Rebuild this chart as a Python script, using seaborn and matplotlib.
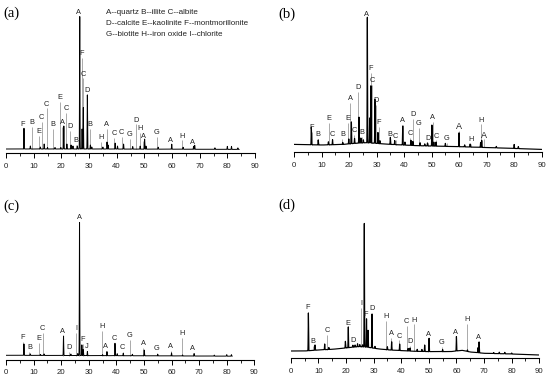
import numpy as np
import matplotlib
matplotlib.use("Agg")
import matplotlib.pyplot as plt
import seaborn as sns

sns.set_theme(style="white")
plt.rcParams['font.family'] = ['Liberation Sans', 'DejaVu Sans']

# ---------------- data (heights in px above x-axis line of reference) -------------
legend_lines = ["A--quartz B--illite C--albite",
                "D--calcite E--kaolinite F--montmorillonite",
                "G--biotite H--iron oxide I--chlorite"]

# panel (a)
a_bg_x = [0, 30, 60, 84.3]
a_bg_y = [3.7, 3.7, 3.5, 3.3]
a_peak_pos = [6.5, 8.8, 12.4, 13.8, 15.0, 17.7, 19.8, 20.9, 22.0, 23.5, 24.2, 25.8, 26.65, 27.5, 27.95,
              29.4, 30.5, 31.0, 35.0, 36.5, 36.9, 39.45, 40.3, 42.5, 45.8, 48.5, 50.1, 50.6, 55.0,
              59.9, 64.0, 67.8, 68.2, 75.5, 80.0, 81.5, 83.8]
a_peak_h = [20.7, 3, 2, 5, 1.5, 1.5, 1.5, 23, 5, 4, 3, 3, 134, 20, 42,
            54, 4, 2, 2, 7, 4, 6, 3, 5, 2.5, 3, 10, 3, 2,
            5, 2, 3, 4, 1.5, 3, 3, 1.5]
a_lab_txt = ["F", "B", "E", "C", "C", "B", "E", "A", "C", "D", "B", "A", "F", "C", "D", "B", "H", "A",
             "C", "C", "G", "D", "H", "A", "G", "A", "H", "A"]
a_lab_x = [6.0, 9.5, 12.0, 12.9, 14.7, 17.1, 19.5, 20.4, 21.8, 23.1, 25.3, 26.3, 27.3, 27.9, 29.2, 30.4,
           34.2, 36.4, 39.0, 41.8, 44.8, 47.0, 48.4, 49.6, 54.5, 59.5, 63.5, 67.5]
a_lab_y = [27.7, 30.4, 21.0, 35.0, 48.7, 27.7, 55.4, 30.4, 44.4, 26.0, 12.0, 139.7, 99.4, 78.7, 62.7, 28.4,
           15.0, 28.4, 19.4, 20.4, 17.7, 32.7, 23.7, 16.0, 20.4, 12.0, 16.7, 10.4]

# panel (b)
b_bg_x = [0, 10, 18, 22, 26, 30, 35, 45, 60, 75, 90]
b_bg_y = [7.3, 6.7, 7.3, 8.3, 9.0, 8.3, 7.3, 6.0, 5.0, 3.7, 2.3]
b_peak_pos = [6.3, 8.8, 12.5, 14.0, 17.7, 19.9, 20.85, 22.0, 23.6, 24.3, 25.2, 26.65, 27.5, 27.95, 29.4,
              30.5, 31.2, 35.0, 36.6, 39.5, 40.3, 42.5, 43.2, 45.8, 47.5, 48.5, 50.1, 50.8, 51.6, 55.0,
              59.95, 62.0, 64.0, 67.8, 68.2, 73.5, 80.0, 81.5]
b_peak_h = [17.7, 5, 3, 5, 2, 5, 22, 5, 26, 5, 3, 127, 25, 58, 44,
            11, 3, 7, 4, 19, 3, 5, 4, 3, 2, 3, 21, 4, 4, 3,
            14, 2, 3, 5, 7, 1.5, 4, 2]
b_lab_txt = ["F", "B", "E", "C", "B", "E", "A", "C", "D", "B", "A", "F", "C", "D", "F", "B", "C", "A", "C",
             "D", "G", "D", "A", "C", "G", "A", "H", "H", "A"]
b_lab_x = [6.4, 8.6, 12.7, 13.9, 17.6, 19.7, 20.5, 21.9, 23.3, 24.8, 26.4, 28.0, 28.5, 29.7, 30.9, 34.9,
           36.9, 39.5, 42.2, 43.1, 45.4, 48.8, 50.4, 51.7, 55.5, 60.1, 64.2, 67.9, 69.2]
b_lab_y = [24.0, 16.7, 33.3, 16.7, 16.7, 32.7, 53.3, 20.7, 64.0, 19.0, 137.3, 83.3, 70.7, 51.0, 29.0, 17.3,
           15.7, 30.7, 18.3, 37.3, 28.3, 13.3, 34.3, 15.7, 13.3, 25.0, 12.3, 31.7, 16.7]

# panel (c)
c_bg_x = [0, 30, 60, 82]
c_bg_y = [4.3, 4.0, 3.7, 3.4]
c_peak_pos = [6.5, 8.8, 12.5, 13.8, 20.85, 23.5, 26.0, 26.65, 27.5, 28.0, 29.5, 35.0, 36.6, 39.5, 40.3,
              42.5, 45.8, 50.1, 55.0, 60.0, 64.0, 68.2, 75.5, 80.0, 81.7]
c_peak_h = [11.4, 1.5, 1, 1.5, 19.7, 1.5, 2, 134.7, 10.7, 6, 4, 1, 4, 12.4, 2,
            2.4, 1.5, 5.7, 1.5, 3, 1, 2.4, 1, 1.5, 1.5]
c_lab_txt = ["F", "B", "E", "C", "A", "D", "I", "A", "F", "J", "H", "A", "C", "C", "G", "A", "G", "A", "H", "A"]
c_lab_x = [6.0, 8.5, 11.8, 13.3, 20.5, 23.0, 25.5, 26.6, 27.8, 29.4, 34.7, 36.2, 39.1, 42.3, 44.9, 49.8,
           54.6, 59.7, 63.7, 67.6]
c_lab_y = [21.7, 11.7, 21.0, 31.0, 28.3, 11.7, 30.7, 141.7, 20.0, 13.3, 33.3, 13.3, 21.0, 11.7, 24.3, 16.0,
           10.7, 13.3, 26.0, 10.7]

# panel (d)
d_bg_x = [0, 5, 10, 15, 19, 22, 25, 28, 32, 36, 40, 45, 50, 55, 58, 62, 65, 70, 80, 90]
d_bg_y = [7.3, 7.3, 8.3, 9.0, 10.0, 11.0, 11.7, 11.0, 9.3, 8.3, 7.7, 7.0, 6.7, 6.7, 6.7, 8.0, 6.3, 5.0, 4.3, 3.3]
d_peak_pos = [6.4, 8.8, 12.3, 13.8, 19.8, 20.85, 22.5, 23.3, 24.2, 25.0, 26.0, 26.65, 27.45, 28.0, 29.4,
              30.5, 35.0, 36.55, 39.45, 42.5, 43.2, 45.8, 47.5, 48.5, 50.1, 55.0, 60.0, 64.0, 67.8, 68.2,
              73.5, 75.5, 77.5, 80.0]
d_peak_h = [37.7, 5.3, 5.7, 2, 6.7, 21, 2, 2, 3, 2, 2, 125, 28.7, 17, 33.8,
            2, 3, 8.4, 6.5, 2.5, 3, 2, 2, 6.5, 13.3, 2, 14.4, 1.5, 5, 10.9,
            1, 1.5, 1.5, 1]
d_lab_txt = ["F", "B", "C", "E", "D", "I", "F", "D", "H", "A", "C", "C", "H", "D", "A", "G", "A", "H", "A"]
d_lab_x = [6.2, 8.2, 13.3, 20.6, 22.4, 25.5, 27.1, 29.3, 34.5, 36.3, 39.2, 42.0, 44.8, 43.3, 49.8, 54.7,
           59.7, 63.7, 67.9]
d_lab_y = [51.0, 16.7, 27.3, 35.0, 17.7, 55.0, 44.3, 50.0, 41.7, 25.0, 22.3, 36.7, 38.3, 16.7, 24.3, 15.7,
           26.0, 39.0, 20.7]

panel_names = ["(a)", "(b)", "(c)", "(d)"]
xticks_major = [0, 10, 20, 30, 40, 50, 60, 70, 80, 90]

# ---------------- layout (pixels of 550x380 canvas) ----------------
W, H = 550, 380
AX_H = 150  # px height of each axes; y units are px above axis line
layout = {
    "a": dict(x0=6.0, x90=255.0, axis_y=152.7, xend=84.3, name_xy=(3, 12.8), lw=0.7),
    "b": dict(x0=294.0, x90=541.7, axis_y=151.7, xend=90.0, name_xy=(278, 14.0), lw=0.85),
    "c": dict(x0=6.0, x90=254.3, axis_y=359.6, xend=82.0, name_xy=(3, 206.7), lw=0.7),
    "d": dict(x0=290.7, x90=539.3, axis_y=358.3, xend=90.0, name_xy=(278, 205.7), lw=0.85),
}
panels = {
    "a": (a_bg_x, a_bg_y, a_peak_pos, a_peak_h, a_lab_txt, a_lab_x, a_lab_y),
    "b": (b_bg_x, b_bg_y, b_peak_pos, b_peak_h, b_lab_txt, b_lab_x, b_lab_y),
    "c": (c_bg_x, c_bg_y, c_peak_pos, c_peak_h, c_lab_txt, c_lab_x, c_lab_y),
    "d": (d_bg_x, d_bg_y, d_peak_pos, d_peak_h, d_lab_txt, d_lab_x, d_lab_y),
}

fig = plt.figure(figsize=(W / 100, H / 100), dpi=100)
fig.patch.set_facecolor("white")

SIG = 0.065
for i, key in enumerate(["a", "b", "c", "d"]):
    L = layout[key]
    bg_x, bg_y, pp, ph, lt, lx, ly = panels[key]
    left = L["x0"] / W
    width = (L["x90"] - L["x0"]) / W
    bottom = 1 - L["axis_y"] / H
    ax = fig.add_axes([left, bottom, width, AX_H / H])
    ax.set_facecolor("none")

    x = np.arange(0, L["xend"] + 1e-9, 0.02)
    y = np.interp(x, bg_x, bg_y)
    for p, h in zip(pp, ph):
        y = y + h * np.exp(-0.5 * ((x - p) / SIG) ** 2)

    # gray marker lines
    base_at = np.interp(lx, bg_x, bg_y)
    ax.vlines(lx, base_at, np.array(ly) - 4.3, color="#aaaaaa", linewidth=0.7, zorder=1)

    sns.lineplot(x=x, y=y, ax=ax, color="black", linewidth=L["lw"], estimator=None, sort=False, zorder=2)

    for t, xx, yy in zip(lt, lx, ly):
        fs = 5.3
        if key == "b" and t == "A" and xx > 58:
            fs = 6.5
        ax.text(xx, yy, t, ha="center", va="center", fontsize=fs, color="#222222",
                zorder=3, clip_on=False)

    ax.set_xlim(0, 90)
    ax.set_ylim(0, AX_H)
    ax.set_xlabel("")
    ax.set_ylabel("")
    ax.set_yticks([])
    ax.set_xticks(xticks_major)
    ax.set_xticks(np.arange(5, 90, 10), minor=True)
    ax.set_xticklabels([str(v) for v in xticks_major], fontsize=5.6)
    ax.tick_params(axis="x", which="major", direction="out", length=3.3, width=0.7,
                   color="black", pad=3.8, labelcolor="#222222", bottom=True)
    ax.tick_params(axis="x", which="minor", direction="out", length=2.0, width=0.6,
                   color="black", bottom=True)
    for s in ["left", "right", "top"]:
        ax.spines[s].set_visible(False)
    ax.spines["bottom"].set_linewidth(0.8)
    ax.spines["bottom"].set_color("black")
    ax.grid(False)

    nx, ny = L["name_xy"]
    fig.text(nx / W, 1 - ny / H, panel_names[i], ha="left", va="center", fontsize=10.5,
             family=["Liberation Serif", "DejaVu Serif"], color="black")

# legend text in panel (a)
for k, s in enumerate(legend_lines):
    fig.text(106 / W, 1 - (12.0 + 11.2 * k) / H, s, ha="left", va="center", fontsize=5.8,
             color="#222222")

fig.savefig("out.png", dpi=100, facecolor="white")
